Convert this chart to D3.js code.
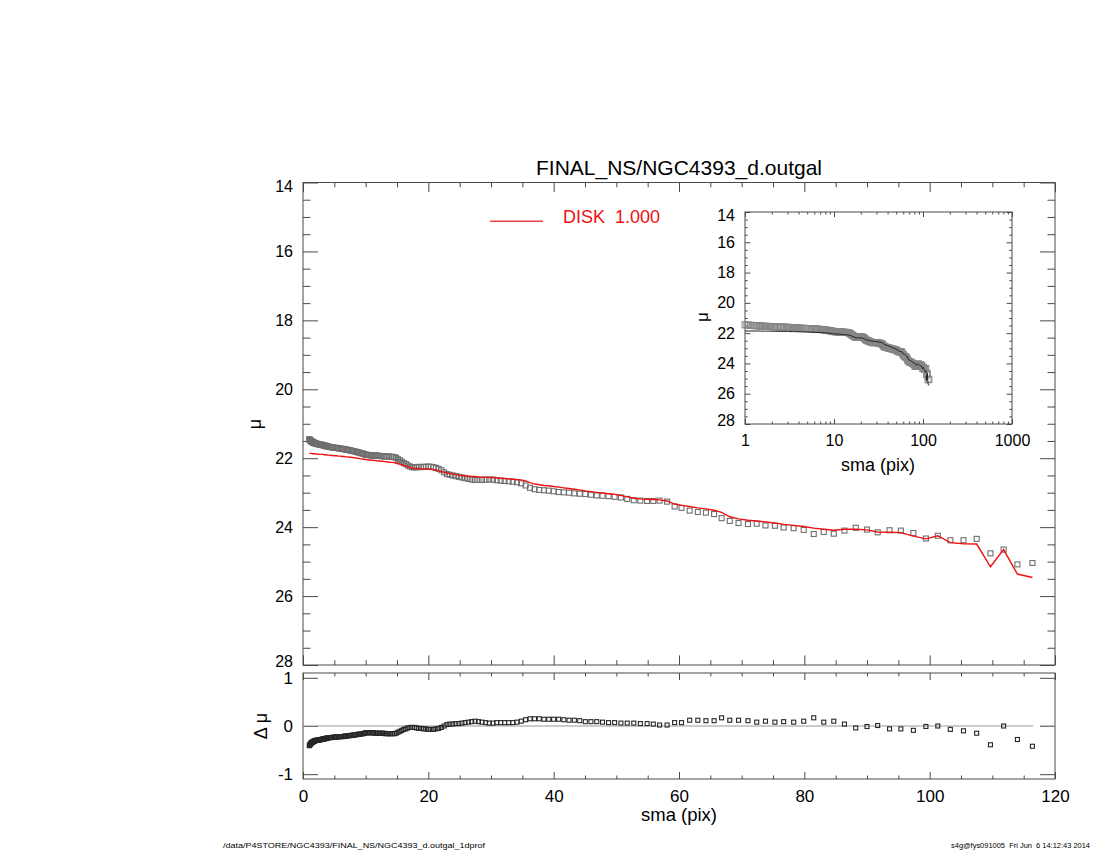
<!DOCTYPE html>
<html><head><meta charset="utf-8">
<script src="https://cdn.jsdelivr.net/npm/d3@7"></script>
<style>
body{margin:0;background:#fff}
text{font-family:"Liberation Sans",Arial,Helvetica,sans-serif;fill:#000}
</style>
</head><body>
<svg id="c" width="1100" height="850"></svg>
<script>
// ---------------- data ----------------
const sma = [
1.00,1.05,1.10,1.15,1.20,1.25,1.30,1.35,1.40,1.45,1.50,1.55,1.60,1.65,1.70,1.75,1.80,1.85,1.90,1.95,2.00,
2.1,2.2,2.3,2.4,2.5,2.6,2.7,2.8,2.9,3.0,3.1,3.2,3.3,3.4,3.5,3.6,3.7,3.8,3.9,4.0,
4.2,4.4,4.6,4.8,5.0,5.2,5.4,5.6,5.8,6.0,6.2,6.4,6.6,6.8,7.0,7.2,7.4,7.6,7.8,8.0,8.2,8.4,8.6,8.8,9.0,9.2,9.4,9.6,9.8,
10.00,10.20,10.40,10.61,10.82,11.04,11.26,11.49,11.72,11.95,12.19,12.43,12.68,12.94,13.19,13.46,13.73,14.00,14.28,14.57,
14.86,15.16,15.46,15.77,16.08,16.41,16.73,17.07,17.41,17.76,18.11,18.48,18.85,19.22,19.61,20.00,20.40,20.81,21.22,21.65,
22.08,22.52,22.97,23.43,23.90,24.38,24.87,25.36,25.87,26.39,26.92,27.46,28.00,28.56,29.14,29.72,30.31,30.92,31.54,32.17,
32.81,33.47,34.14,34.82,35.52,36.23,36.95,37.69,38.45,39.22,40.00,40.80,41.62,42.45,43.30,44.16,45.05,45.95,46.87,47.80,
48.76,49.73,50.73,51.74,52.78,53.83,54.91,55.90,
56.90,58.10,59.30,60.40,61.70,63.00,64.30,65.60,66.80,68.10,69.50,71.00,72.40,73.80,75.30,76.70,78.30,79.90,81.50,83.10,
84.70,86.40,88.20,90.00,91.70,93.60,95.40,97.40,99.40,101.30,103.30,105.40,107.50,109.70,111.80,114.00,116.40
];
const mu = [
21.45,21.46,21.47,21.48,21.49,21.50,21.51,21.51,21.52,21.52,21.53,21.54,21.54,21.55,21.55,21.55,21.56,21.56,21.56,21.57,21.57,
21.58,21.58,21.59,21.59,21.59,21.60,21.60,21.61,21.61,21.61,21.62,21.62,21.63,21.63,21.64,21.64,21.65,21.65,21.66,21.66,
21.67,21.68,21.68,21.69,21.70,21.70,21.70,21.71,21.72,21.72,21.73,21.73,21.74,21.75,21.75,21.76,21.77,21.77,21.79,21.79,21.80,21.81,21.82,21.83,21.84,21.85,21.86,21.87,21.88,
21.90,21.90,21.91,21.91,21.92,21.92,21.92,21.92,21.92,21.93,21.93,21.94,21.94,21.95,21.94,21.95,21.95,21.96,21.96,21.97,
21.99,22.03,22.06,22.10,22.14,22.17,22.21,22.24,22.26,22.27,22.26,22.25,22.26,22.25,22.25,22.24,22.25,22.26,22.28,22.31,
22.35,22.41,22.46,22.48,22.50,22.52,22.54,22.56,22.58,22.60,22.62,22.63,22.63,22.63,22.62,22.62,22.62,22.64,22.65,22.66,
22.67,22.68,22.70,22.73,22.79,22.86,22.90,22.92,22.93,22.94,22.96,22.98,22.99,23.00,23.02,23.03,23.04,23.06,23.08,23.09,
23.10,23.12,23.14,23.18,23.22,23.23,23.24,23.24,
23.23,23.26,23.40,23.44,23.52,23.56,23.58,23.62,23.74,23.82,23.88,23.91,23.90,23.95,23.96,24.01,24.03,24.08,24.20,24.14,
24.19,24.10,24.02,24.07,24.15,24.09,24.10,24.17,24.33,24.25,24.38,24.38,24.34,24.76,24.65,25.08,25.04
];
const model = [
21.86,21.86,21.86,21.86,21.86,21.86,21.86,21.86,21.86,21.86,21.87,21.87,21.87,21.87,21.87,21.87,21.87,21.87,21.87,21.87,21.87,
21.88,21.88,21.88,21.88,21.88,21.89,21.89,21.89,21.89,21.89,21.89,21.89,21.90,21.90,21.90,21.90,21.90,21.91,21.91,21.91,
21.91,21.92,21.92,21.92,21.93,21.93,21.93,21.94,21.94,21.94,21.95,21.95,21.95,21.96,21.96,21.96,21.97,21.97,21.98,21.98,21.99,21.99,22.00,22.00,22.01,22.02,22.02,22.03,22.03,
22.04,22.04,22.05,22.05,22.06,22.06,22.06,22.07,22.07,22.08,22.08,22.09,22.09,22.10,22.10,22.11,22.11,22.12,22.12,22.13,
22.14,22.16,22.17,22.19,22.21,22.23,22.25,22.27,22.29,22.30,22.30,22.30,22.31,22.31,22.31,22.31,22.32,22.33,22.34,22.36,
22.38,22.41,22.43,22.44,22.46,22.47,22.49,22.50,22.51,22.52,22.53,22.53,22.54,22.55,22.55,22.56,22.56,22.57,22.58,22.59,
22.60,22.61,22.62,22.63,22.66,22.71,22.75,22.77,22.79,22.80,22.82,22.84,22.86,22.88,22.90,22.92,22.95,22.97,22.99,23.01,
23.03,23.05,23.08,23.12,23.16,23.18,23.19,23.20,
23.21,23.24,23.33,23.37,23.40,23.44,23.47,23.51,23.57,23.70,23.76,23.80,23.82,23.85,23.88,23.92,23.95,23.98,24.03,24.06,
24.09,24.06,24.06,24.08,24.14,24.15,24.16,24.26,24.34,24.25,24.45,24.48,24.49,25.15,24.65,25.36,25.46
];
const xTicks = [0,20,40,60,80,100,120];
const yTicks = [14,16,18,20,22,24,26,28];
const dTicks = [-1,0,1];
const insetXTicks = [1,10,100,1000];
const zeroSegments = [[0,116.5],[117.6,120]];
const titleText = "FINAL_NS/NGC4393_d.outgal";
const legendText = "DISK  1.000";
const footLeft = "/data/P4STORE/NGC4393/FINAL_NS/NGC4393_d.outgal_1dprof";
const footRight = "s4g@fys091005  Fri Jun  6 14:12:43 2014";

// ---------------- chart ----------------
const svg = d3.select("#c");
const rows = sma.map((s,i)=>({s, mu:mu[i], m:model[i], d:mu[i]-model[i]}));

const x = d3.scaleLinear().domain([0,120]).range([303,1055]);
const y = d3.scaleLinear().domain([14,28]).range([182.5,665]);
const yd = d3.scaleLinear().domain([-1.1,1.1]).range([779,673]);
const xi = d3.scaleLog().domain([1,1000]).range([745,1012]);
const yi = d3.scaleLinear().domain([14,28]).range([212,424]);

const AX = "#4a4a4a";
const RED = "#ee1111";
const plain = d => String(d);

function axis(g, gen, tr, vals, size, pad, fmt, fs, endShift){
  const a = g.append("g").attr("transform", tr)
    .call(gen.tickValues(vals).tickSize(size).tickSizeOuter(0).tickPadding(pad).tickFormat(fmt));
  a.attr("font-family", null).attr("font-size", null);
  a.select(".domain").remove();
  a.selectAll("line").style("stroke", AX).attr("stroke-width", 1);
  a.selectAll("text").attr("font-size", fs || 16).style("fill", "#000");
  if (endShift) {
    const lo = d3.min(vals), hi = d3.max(vals);
    a.selectAll(".tick").filter(d => d === lo).select("text").attr("y", endShift);
    a.selectAll(".tick").filter(d => d === hi).select("text").attr("y", -endShift);
  }
  return a;
}
function frame(xs, ys, o){
  const g = svg.append("g");
  const [l, r] = xs.range();
  const t = Math.min(...ys.range()), b = Math.max(...ys.range());
  g.append("rect").attr("x", l).attr("y", t).attr("width", r - l).attr("height", b - t)
    .attr("fill", "none").style("stroke", AX).attr("stroke-width", 1);
  const none = () => "";
  axis(g, d3.axisBottom(xs), `translate(0,${b})`, o.xMajor, -o.xLen, 11, o.xLabels ? o.xFmt : none, o.fs);
  axis(g, d3.axisBottom(xs), `translate(0,${b})`, o.xMinor, -o.xLen/2, 0, none);
  axis(g, d3.axisTop(xs), `translate(0,${t})`, o.xMajor, -o.xLen, 0, none);
  axis(g, d3.axisTop(xs), `translate(0,${t})`, o.xMinor, -o.xLen/2, 0, none);
  axis(g, d3.axisLeft(ys), `translate(${l},0)`, o.yMajor, -o.yLen, 10, o.yFmt, o.fs, o.endShift);
  if (o.yMinor) axis(g, d3.axisLeft(ys), `translate(${l},0)`, o.yMinor, -o.yLen/2, 0, none);
  axis(g, d3.axisRight(ys), `translate(${r},0)`, o.yMajor, -o.yLen, 0, none);
  if (o.yMinor) axis(g, d3.axisRight(ys), `translate(${r},0)`, o.yMinor, -o.yLen/2, 0, none);
  return g;
}

// ---- main panel ----
frame(x, y, {xMajor:xTicks, xMinor:d3.range(0,121,5).filter(v=>v%20), xLen:9.6, xLabels:false,
  yMajor:yTicks, yMinor:d3.range(14,28.01,0.5).filter(v=>v%2), yLen:15, yFmt:plain, endShift:4});

const gm = svg.append("g");
gm.selectAll("rect").data(rows).join("rect")
  .attr("x", d => x(d.s) - 2.5).attr("y", d => y(d.mu) - 2.5)
  .attr("width", 5).attr("height", 5)
  .attr("fill", "none").style("stroke", "#6e6e6e").attr("stroke-width", 1.1);
gm.append("path").datum(rows)
  .attr("d", d3.line().x(d => x(d.s)).y(d => y(d.m)))
  .attr("fill", "none").style("stroke", RED).attr("stroke-width", 1.4);

// legend (sample line as a thin filled bar so it renders in red)
svg.append("rect").attr("x", 490).attr("y", 220.6).attr("width", 53).attr("height", 1.2)
  .style("fill", RED).style("stroke", "none");
svg.append("text").attr("x", 563).attr("y", 222.5).attr("font-size", 18)
  .style("fill", RED).attr("xml:space", "preserve").style("white-space", "pre").text(legendText);

// title
svg.append("text").attr("x", 679).attr("y", 175).attr("text-anchor", "middle")
  .attr("font-size", 21).text(titleText);

// y label
svg.append("text").attr("transform", "translate(261,424) rotate(-90)").attr("text-anchor", "middle")
  .attr("font-size", 18).text("μ");

// ---- residual panel ----
frame(x, yd, {xMajor:xTicks, xMinor:d3.range(0,121,5).filter(v=>v%20), xLen:7, xLabels:true, xFmt:plain, fs:17,
  yMajor:dTicks, yMinor:null, yLen:15, yFmt:plain});
const gr = svg.append("g");
zeroSegments.forEach(sg => {
  gr.append("line").attr("x1", x(sg[0])).attr("x2", x(sg[1])).attr("y1", yd(0)).attr("y2", yd(0))
    .style("stroke", "#9a9a9a").attr("stroke-width", 1.2);
});
gr.selectAll("rect").data(rows).join("rect")
  .attr("x", d => x(d.s) - 2).attr("y", d => yd(d.d) - 2)
  .attr("width", 4).attr("height", 4)
  .attr("fill", "none").style("stroke", "#262626").attr("stroke-width", 1.1);
svg.append("text").attr("transform", "translate(267,726) rotate(-90)").attr("text-anchor", "middle")
  .attr("font-size", 18).attr("xml:space", "preserve").style("white-space", "pre").text("Δ μ");
svg.append("text").attr("x", 679).attr("y", 821).attr("text-anchor", "middle")
  .attr("font-size", 18.5).text("sma (pix)");

// ---- inset ----
const logMinor = [];
[1,10,100].forEach(dec => { for (let k = 2; k <= 9; k++) logMinor.push(dec * k); });
frame(xi, yi, {xMajor:insetXTicks, xMinor:logMinor, xLen:5, xLabels:true, xFmt:plain,
  yMajor:yTicks, yMinor:d3.range(14,28.01,0.5).filter(v=>v%2), yLen:5.4, yFmt:plain, endShift:3.5});
const gin = svg.append("g");
gin.selectAll("rect").data(rows).join("rect")
  .attr("x", d => xi(d.s) - 3).attr("y", d => yi(d.mu) - 3)
  .attr("width", 6).attr("height", 6)
  .attr("fill", "none").style("stroke", "#858585").attr("stroke-width", 1);
gin.append("path").datum(rows)
  .attr("d", d3.line().x(d => xi(d.s)).y(d => yi(d.m)))
  .attr("fill", "none").style("stroke", "#1a1a1a").attr("stroke-width", 1);
svg.append("text").attr("transform", "translate(708,317) rotate(-90)").attr("text-anchor", "middle")
  .attr("font-size", 17).text("μ");
svg.append("text").attr("x", 878).attr("y", 471).attr("text-anchor", "middle")
  .attr("font-size", 18).text("sma (pix)");

// ---- footer ----
svg.append("text").attr("x", 223).attr("y", 848).attr("font-size", 8)
  .attr("textLength", 262).attr("lengthAdjust", "spacingAndGlyphs").text(footLeft);
svg.append("text").attr("x", 951).attr("y", 848).attr("font-size", 8)
  .attr("textLength", 139).attr("lengthAdjust", "spacingAndGlyphs")
  .attr("xml:space", "preserve").style("white-space", "pre").text(footRight);
</script>
</body></html>
